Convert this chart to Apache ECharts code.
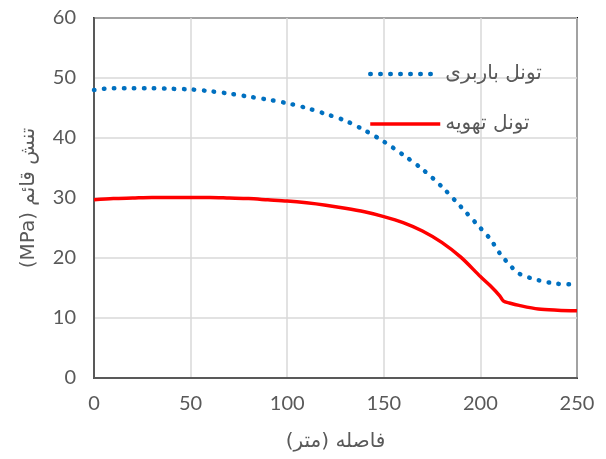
<!DOCTYPE html>
<html><head><meta charset="utf-8">
<script src="https://cdn.jsdelivr.net/npm/echarts@6/dist/echarts.min.js"></script>
<style>html,body{margin:0;padding:0;background:#fff}#c{width:606px;height:459px}</style>
</head><body><div id="c"></div>
<script>
const xValues = [0,10,20,30,40,50,60,70,80,90,100,110,120,130,140,150,160,170,180,190,200,205,210,212,215,220,230,240,250];
const blueValues = [48.0,48.3,48.3,48.3,48.2,48.1,47.8,47.4,46.9,46.4,45.8,45.0,44.0,42.9,41.3,39.4,37.2,34.8,31.9,28.5,25.0,23.2,20.8,20.0,18.9,17.4,16.3,15.7,15.6];
const redValues = [29.7,29.9,30.0,30.1,30.1,30.1,30.1,30.0,29.9,29.7,29.5,29.2,28.8,28.3,27.7,26.9,25.9,24.5,22.6,20.1,16.9,15.4,13.7,12.8,12.5,12.1,11.5,11.3,11.2];
const seriesNames = ['تونل باربری','تونل تهویه'];
const xTitle = '\u202Bفاصله (متر)\u202C';
const yTitle = '\u202Bتنش قائم (MPa)\u202C';

const blueStyle = {color:'#0070C0',width:4.5,type:[0.5,9.5],cap:'round'};
const redStyle = {color:'#FF0000',width:3.5};
const toPairs = v => xValues.map((x,i)=>[x,v[i]]);
const chart = echarts.init(document.getElementById('c'), null, {renderer:'canvas'});
chart.setOption({
  animation:false,
  grid:{left:94,right:29,top:18,bottom:81,show:true,borderColor:'#000',borderWidth:2,containLabel:false},
  legend:{
    left:363, top:59, orient:'vertical', itemWidth:70, itemHeight:14, itemGap:30, align:'left',
    itemStyle:{opacity:0},
    textStyle:{fontFamily:'DejaVu Sans',fontSize:20,color:'#595959'},
    data:[
      {name:seriesNames[0], lineStyle:blueStyle},
      {name:seriesNames[1], lineStyle:redStyle}
    ]
  },
  xAxis:{
    type:'value', min:0, max:250, interval:50,
    name:xTitle, nameLocation:'middle', nameGap:54,
    nameTextStyle:{fontFamily:'DejaVu Sans',fontSize:20,color:'#595959'},
    axisLine:{show:true,lineStyle:{color:'#595959',width:2}},
    axisTick:{show:false},
    axisLabel:{fontFamily:'Lato',fontSize:20,color:'#595959',margin:16},
    splitLine:{show:true,lineStyle:{color:'#d9d9d9',width:1.5}}
  },
  yAxis:{
    type:'value', min:0, max:60, interval:10,
    name:yTitle, nameLocation:'middle', nameGap:55, nameRotate:90,
    nameTextStyle:{fontFamily:'DejaVu Sans',fontSize:20,color:'#595959'},
    axisLine:{show:true,lineStyle:{color:'#595959',width:2}},
    axisTick:{show:false},
    axisLabel:{fontFamily:'Lato',fontSize:20,color:'#595959',margin:18},
    splitLine:{show:true,lineStyle:{color:'#d9d9d9',width:1.5}}
  },
  series:[
    {name:seriesNames[0],type:'line',data:toPairs(blueValues),smooth:0.3,symbol:'none',
     lineStyle:blueStyle,itemStyle:{color:'#0070C0'}},
    {name:seriesNames[1],type:'line',data:toPairs(redValues),smooth:0.3,symbol:'none',
     lineStyle:redStyle,itemStyle:{color:'#FF0000'}}
  ]
});
</script></body></html>
